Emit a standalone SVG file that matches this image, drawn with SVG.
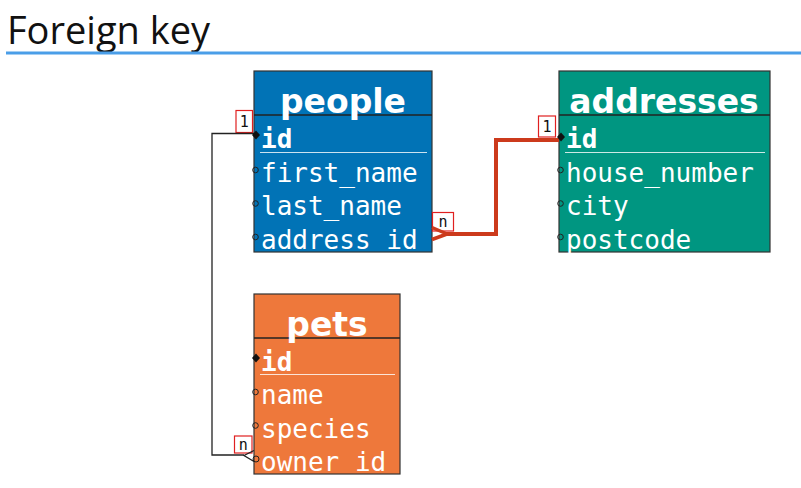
<svg xmlns="http://www.w3.org/2000/svg" width="801" height="488" viewBox="0 0 801 488">
<defs>
<style>
.title{font-family:"Open Sans","Liberation Sans",sans-serif;font-size:38px;fill:#111}
.tbl{stroke:#333;stroke-width:1.2}
.hdr{font-family:"DejaVu Sans",sans-serif;font-weight:bold;font-size:33px;fill:#fff;text-anchor:middle}
.row{font-family:"DejaVu Sans Mono",monospace;font-size:26px;fill:#fff}
.pk{font-weight:bold}
.div{stroke:#222;stroke-width:1.5}
.ul{stroke:#fff;stroke-width:1;opacity:0.8}
.opt{fill:none;stroke:#222;stroke-width:1}
.lbl rect{fill:#fff;stroke:#e02020;stroke-width:1.2}
.lbl text{font-family:"DejaVu Sans Mono",monospace;font-size:15px;fill:#111;text-anchor:middle}
</style>
</defs>
<rect width="801" height="488" fill="#fff"/>
<text class="title" x="7" y="44">Foreign key</text>
<line x1="6" y1="53" x2="801" y2="53" stroke="#4a9ee8" stroke-width="3"/>

<g id="people">
<rect class="tbl" x="254" y="71" width="178" height="181" fill="#0173b6"/>
<line class="div" x1="254" y1="115" x2="432" y2="115"/>
<text class="hdr" x="343" y="113">people</text>
<text class="row pk" x="261" y="148">id</text>
<line class="ul" x1="260" y1="152.5" x2="427" y2="152.5"/>
<text class="row" x="261" y="181.5">first_name</text>
<text class="row" x="261" y="215">last_name</text>
<text class="row" x="261" y="248.5">address_id</text>
<circle class="opt" cx="255.5" cy="170" r="2.8"/>
<circle class="opt" cx="255.5" cy="203.5" r="2.8"/>
<circle class="opt" cx="255.5" cy="237" r="2.8"/>
</g>

<g id="addresses">
<rect class="tbl" x="559" y="71" width="211" height="181" fill="#009681"/>
<line class="div" x1="559" y1="115" x2="770" y2="115"/>
<text class="hdr" x="664" y="113">addresses</text>
<text class="row pk" x="566" y="148">id</text>
<line class="ul" x1="565" y1="152.5" x2="765" y2="152.5"/>
<text class="row" x="566" y="181.5">house_number</text>
<text class="row" x="566" y="215">city</text>
<text class="row" x="566" y="248.5">postcode</text>
<circle class="opt" cx="560.5" cy="170" r="2.8"/>
<circle class="opt" cx="560.5" cy="203.5" r="2.8"/>
<circle class="opt" cx="560.5" cy="237" r="2.8"/>
</g>

<g id="pets">
<rect class="tbl" x="254" y="294" width="146" height="180" fill="#ee783b"/>
<line class="div" x1="254" y1="338" x2="400" y2="338"/>
<text class="hdr" x="327" y="336">pets</text>
<text class="row pk" x="261" y="371">id</text>
<line class="ul" x1="260" y1="374.5" x2="395" y2="374.5"/>
<text class="row" x="261" y="404">name</text>
<text class="row" x="261" y="437.5">species</text>
<text class="row" x="261" y="471">owner_id</text>
<path d="M252 358 L256 353.5 L260 358 L256 362.5 Z" fill="#111"/>
<circle class="opt" cx="255.5" cy="392" r="2.8"/>
<circle class="opt" cx="255.5" cy="425.5" r="2.8"/>
<circle class="opt" cx="256" cy="459" r="3"/>
</g>

<g id="connectors">
<g class="lbl"><rect x="236" y="110.5" width="16.5" height="22"/><text x="244.3" y="127">1</text></g>
<g class="lbl"><rect x="234.5" y="436" width="17.5" height="17"/><text x="243.3" y="449.5">n</text></g>
<g class="lbl"><rect x="432.5" y="212.5" width="21" height="18.5"/><text x="443" y="226.5">n</text></g>
<g class="lbl"><rect x="538.5" y="116" width="17" height="21"/><text x="547" y="132">1</text></g>
<path d="M254 133.5 H212 V455 H244" fill="none" stroke="#222" stroke-width="1.3"/>
<path d="M254 450.5 L244 455.5 L254 461.5" fill="none" stroke="#222" stroke-width="1.3"/>
<path d="M252 135 L256 130.5 L260 135 L256 139.5 Z" fill="#111"/>
<path d="M444 234 H496 V140 H559" fill="none" stroke="#cc3a1c" stroke-width="4"/>
<path d="M432 227.5 L447 234 L432 239.5" fill="none" stroke="#cc3a1c" stroke-width="3.5"/>
<path d="M557 137 L561 132.5 L565 137 L561 141.5 Z" fill="#111"/>
</g>
</svg>
